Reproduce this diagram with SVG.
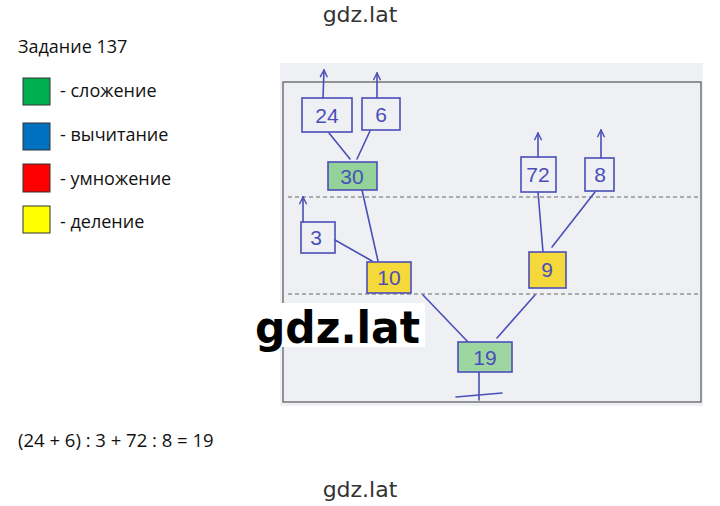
<svg xmlns="http://www.w3.org/2000/svg" width="720" height="506" viewBox="0 0 720 506">
<style>
.t{font-family:"Open Sans","Liberation Sans",sans-serif;fill:#111}
.wm{font-family:"DejaVu Sans","Liberation Sans",sans-serif;fill:#333}
.sq{stroke:#333;stroke-width:1}
.pen{stroke:#4a4fb8;stroke-width:1.6;fill:none;stroke-linecap:round;stroke-linejoin:round}
.box{stroke:#4a4fb8;stroke-width:1.6}
.num{font-family:"Liberation Sans","DejaVu Sans",sans-serif;font-size:21px;fill:#4a4fb8;text-anchor:middle}
.dash{stroke:#666;stroke-width:1.2;stroke-dasharray:4 3}
</style>
<defs>
<marker id="ah" viewBox="0 0 10 10" refX="9" refY="5" markerWidth="9" markerHeight="9" orient="auto" markerUnits="userSpaceOnUse">
<path d="M1,1 L9,5 L1,9" fill="none" stroke="#4a4fb8" stroke-width="1.6"/>
</marker>
</defs>
<rect width="720" height="506" fill="#fff"/>
<text class="wm" x="360" y="22" font-size="22" text-anchor="middle">gdz.lat</text>
<text class="wm" x="360" y="497" font-size="22" text-anchor="middle">gdz.lat</text>
<g id="legend">
<text class="t" x="18" y="53" font-size="18">Задание 137</text>
<rect class="sq" x="23" y="78" width="27" height="27" fill="#00b050"/>
<text class="t" x="60" y="97" font-size="18">- сложение</text>
<rect class="sq" x="23" y="123" width="27" height="27" fill="#0070c0"/>
<text class="t" x="60" y="141" font-size="18">- вычитание</text>
<rect class="sq" x="23" y="164" width="27" height="28" fill="#ff0000"/>
<text class="t" x="60" y="185" font-size="18">- умножение</text>
<rect class="sq" x="23" y="206" width="27" height="27" fill="#ffff00"/>
<text class="t" x="60" y="228" font-size="18">- деление</text>
</g>
<text class="t" x="18" y="447" font-size="18.5">(24 + 6) : 3 + 72 : 8 = 19</text>
<g id="paper">
<rect x="280" y="63" width="423" height="343" fill="#eef0f4"/>
<rect x="283" y="82" width="418" height="320" fill="none" stroke="#555" stroke-width="1.2"/>
<line class="dash" x1="288" y1="197" x2="698" y2="197"/>
<line class="dash" x1="288" y1="294" x2="698" y2="294"/>
</g>
<g id="connectors">
<line class="pen" x1="323" y1="98" x2="324" y2="70" marker-end="url(#ah)"/>
<line class="pen" x1="377" y1="98" x2="377" y2="73" marker-end="url(#ah)"/>
<line class="pen" x1="538" y1="157" x2="538" y2="133" marker-end="url(#ah)"/>
<line class="pen" x1="601" y1="158" x2="601" y2="130" marker-end="url(#ah)"/>
<line class="pen" x1="303" y1="222" x2="303" y2="197" marker-end="url(#ah)"/>
<line class="pen" x1="329" y1="133" x2="350" y2="159"/>
<line class="pen" x1="370" y1="131" x2="357" y2="159"/>
<line class="pen" x1="362" y1="190" x2="378" y2="261"/>
<line class="pen" x1="335" y1="240" x2="372" y2="261"/>
<line class="pen" x1="538" y1="192" x2="543" y2="252"/>
<line class="pen" x1="595" y1="192" x2="552" y2="247"/>
<line class="pen" x1="423" y1="295" x2="468" y2="342"/>
<line class="pen" x1="535" y1="295" x2="497" y2="338"/>
<line class="pen" x1="479" y1="372" x2="479" y2="400"/>
<line class="pen" x1="456" y1="397" x2="502" y2="393"/>
</g>
<g id="n24"><rect class="box" x="302" y="98" width="50" height="34" fill="none"/><text class="num" x="327" y="123">24</text></g>
<g id="n6"><rect class="box" x="362" y="98" width="38" height="32" fill="none"/><text class="num" x="381" y="122">6</text></g>
<g id="n30"><rect class="box" x="328" y="162" width="49" height="28" fill="#93d39a"/><text class="num" x="352" y="184">30</text></g>
<g id="n72"><rect class="box" x="521" y="157" width="35" height="35" fill="none"/><text class="num" x="538" y="182">72</text></g>
<g id="n8"><rect class="box" x="585" y="158" width="29" height="33" fill="none"/><text class="num" x="600" y="182">8</text></g>
<g id="n3"><rect class="box" x="301" y="222" width="34" height="31" fill="none"/><text class="num" x="316" y="245">3</text></g>
<g id="n10"><rect class="box" x="367" y="262" width="44" height="31" fill="#f5d83a"/><text class="num" x="389" y="285">10</text></g>
<g id="n9"><rect class="box" x="529" y="252" width="37" height="36" fill="#f5d83a"/><text class="num" x="547" y="277">9</text></g>
<g id="n19"><rect class="box" x="458" y="342" width="54" height="30" fill="#9ed6a2"/><text class="num" x="485" y="365">19</text></g>
<rect x="252" y="303" width="173" height="44" fill="#fff"/>
<text x="255" y="343" font-family="DejaVu Sans, Liberation Sans, sans-serif" font-size="44" font-weight="bold" fill="#000" textLength="165" lengthAdjust="spacingAndGlyphs">gdz.lat</text>
</svg>
